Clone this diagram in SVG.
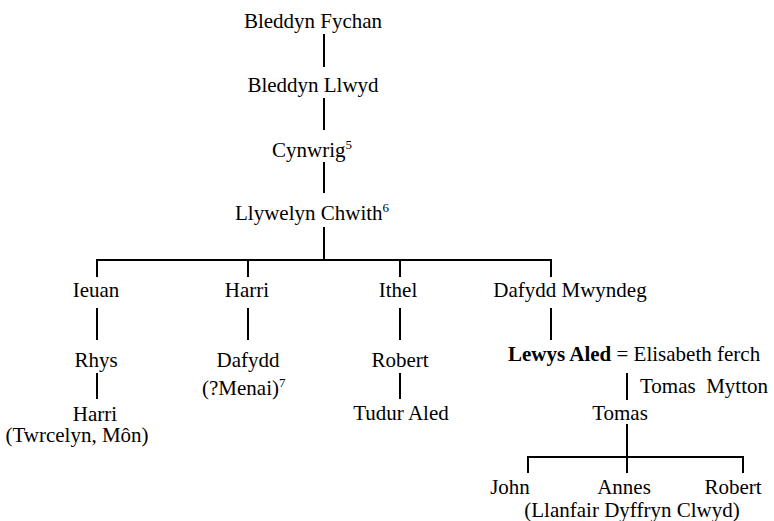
<svg xmlns="http://www.w3.org/2000/svg" width="774" height="521" viewBox="0 0 774 521">
<style>
text{font-family:'Liberation Serif','Times New Roman',serif;font-size:21px;fill:#000}
.m{text-anchor:middle}
.b{font-weight:bold}
.sup{font-size:13px}
#connectors line{stroke:#000;stroke-width:2;fill:none}
</style>
<rect width="774" height="521" fill="#fff"/>
<g id="connectors">
<line x1="324" y1="34" x2="324" y2="67"/>
<line x1="324" y1="98" x2="324" y2="130"/>
<line x1="324" y1="162" x2="324" y2="193"/>
<line x1="324" y1="227" x2="324" y2="260"/>
<line x1="96" y1="260" x2="552" y2="260"/>
<line x1="97" y1="260" x2="97" y2="277"/>
<line x1="248" y1="260" x2="248" y2="277"/>
<line x1="400" y1="260" x2="400" y2="277"/>
<line x1="551" y1="260" x2="551" y2="277"/>
<line x1="97" y1="308" x2="97" y2="340"/>
<line x1="248" y1="308" x2="248" y2="340"/>
<line x1="400" y1="308" x2="400" y2="340"/>
<line x1="551" y1="308" x2="551" y2="340"/>
<line x1="97" y1="373" x2="97" y2="399"/>
<line x1="400" y1="373" x2="400" y2="399"/>
<line x1="627" y1="373" x2="627" y2="400"/>
<line x1="627" y1="424" x2="627" y2="457"/>
<line x1="527" y1="457" x2="744" y2="457"/>
<line x1="528" y1="457" x2="528" y2="473"/>
<line x1="627" y1="457" x2="627" y2="473"/>
<line x1="743" y1="457" x2="743" y2="473"/>
</g>
<g id="bleddyn-fychan"><text x="313" y="28" class="m">Bleddyn Fychan</text></g>
<g id="bleddyn-llwyd"><text x="313" y="92" class="m">Bleddyn Llwyd</text></g>
<g id="cynwrig"><text x="272" y="157">Cynwrig<tspan class="sup" dy="-8">5</tspan></text></g>
<g id="llywelyn-chwith"><text x="235" y="220">Llywelyn Chwith<tspan class="sup" dy="-8">6</tspan></text></g>
<g id="ieuan"><text x="96" y="297" class="m">Ieuan</text></g>
<g id="harri1"><text x="247" y="297" class="m">Harri</text></g>
<g id="ithel"><text x="398" y="297" class="m">Ithel</text></g>
<g id="dafydd-mwyndeg"><text x="570" y="297" class="m">Dafydd Mwyndeg</text></g>
<g id="rhys"><text x="96" y="367" class="m">Rhys</text></g>
<g id="dafydd"><text x="248" y="367" class="m">Dafydd</text><text x="202" y="395">(?Menai)<tspan class="sup" dy="-8">7</tspan></text></g>
<g id="robert1"><text x="400" y="367" class="m">Robert</text></g>
<g id="lewys-aled"><text x="508" y="361"><tspan class="b">Lewys Aled</tspan> = Elisabeth ferch</text><text x="640" y="393" xml:space="preserve">Tomas  Mytton</text></g>
<g id="harri2"><text x="95" y="421" class="m">Harri</text><text x="77" y="442" class="m">(Twrcelyn, Môn)</text></g>
<g id="tudur-aled"><text x="401" y="420" class="m">Tudur Aled</text></g>
<g id="tomas"><text x="620" y="420" class="m">Tomas</text></g>
<g id="john"><text x="510" y="494" class="m">John</text></g>
<g id="annes"><text x="624" y="494" class="m">Annes</text><text x="632" y="517" class="m">(Llanfair Dyffryn Clwyd)</text></g>
<g id="robert2"><text x="733" y="494" class="m">Robert</text></g>
</svg>
